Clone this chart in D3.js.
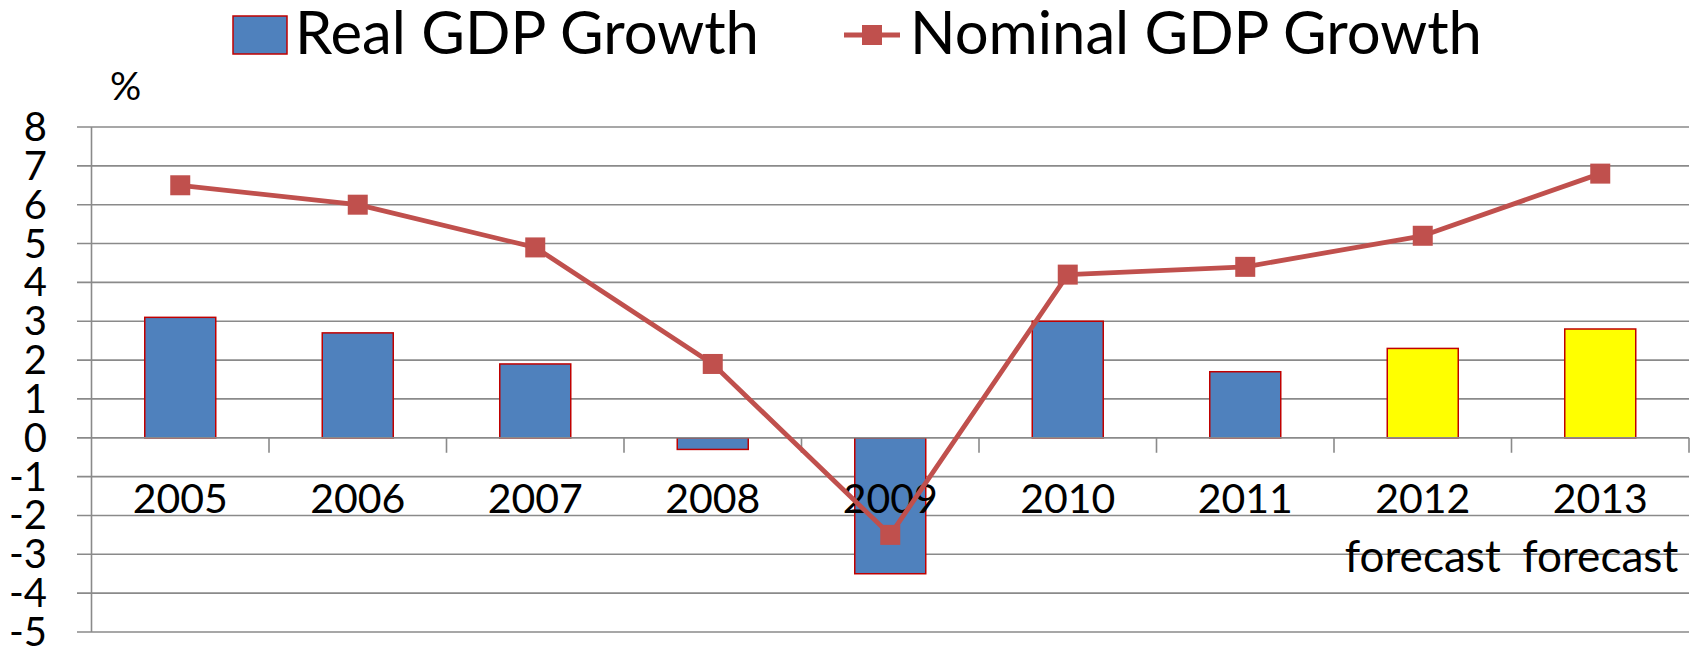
<!DOCTYPE html>
<html><head><meta charset="utf-8">
<script src="https://cdn.jsdelivr.net/npm/d3@7"></script>
<style>body{margin:0;background:#fff}svg{display:block}text{font-family:Lato,"Open Sans",sans-serif;fill:#000}</style>
</head><body>
<svg id="c" width="1700" height="648"></svg>
<script>
const years = ["2005","2006","2007","2008","2009","2010","2011","2012","2013"];
const subLabels = ["","","","","","","","forecast","forecast"];
const realGDP = [3.1, 2.7, 1.9, -0.3, -3.5, 3.0, 1.7, 2.3, 2.8];
const nominalGDP = [6.5, 6.0, 4.9, 1.9, -2.5, 4.2, 4.4, 5.2, 6.8];
const forecastYears = ["2012","2013"];
const yTicks = [8,7,6,5,4,3,2,1,0,-1,-2,-3,-4,-5];
const seriesNames = ["Real GDP Growth","Nominal GDP Growth"];

const svg = d3.select("#c");
const x = d3.scaleBand().domain(years).range([91.5, 1689]).paddingInner(0).paddingOuter(0);
const y = d3.scaleLinear().domain([-5, 8]).range([632, 127]);
const grid = "#8a8a8a";

function fitText(sel, target){
  const fs = 60; sel.attr("font-size", fs);
  const w = sel.node().getComputedTextLength();
  sel.attr("font-size", fs * target / w);
}

// gridlines
svg.append("g").selectAll("line").data(yTicks).join("line")
  .attr("x1", 77).attr("x2", 1689).attr("y1", d => y(d)).attr("y2", d => y(d))
  .attr("stroke", grid).attr("stroke-width", 1.6);

// bars
const bw = x.bandwidth() * 0.4;
svg.append("g").selectAll("rect").data(years).join("rect")
  .attr("x", d => x(d) + x.bandwidth()/2 - bw/2)
  .attr("width", bw)
  .attr("y", (d,i) => y(Math.max(0, realGDP[i])))
  .attr("height", (d,i) => Math.abs(y(realGDP[i]) - y(0)))
  .attr("fill", d => forecastYears.includes(d) ? "#FFFF00" : "#4F81BD")
  .attr("stroke", "#C00000").attr("stroke-width", 1.5);

// axis lines
svg.append("line").attr("x1", 91.5).attr("x2", 91.5).attr("y1", y(8)).attr("y2", y(-5))
  .attr("stroke", grid).attr("stroke-width", 1.6);
svg.append("line").attr("x1", 77).attr("x2", 1689).attr("y1", y(0)).attr("y2", y(0))
  .attr("stroke", grid).attr("stroke-width", 1.6);
svg.append("g").selectAll("line").data(years).join("line")
  .attr("x1", d => x(d) + x.bandwidth()).attr("x2", d => x(d) + x.bandwidth())
  .attr("y1", y(0)).attr("y2", y(0) + 15)
  .attr("stroke", grid).attr("stroke-width", 1.6);

// y labels
svg.append("g").selectAll("text").data(yTicks).join("text")
  .attr("x", 47).attr("y", d => y(d) + 14).attr("text-anchor", "end")
  .attr("font-size", 40).text(d => d);

// x labels
svg.append("g").selectAll("text").data(years).join("text")
  .attr("x", d => x(d) + x.bandwidth()/2).attr("y", 513)
  .attr("text-anchor", "middle").attr("font-size", 41).text(d => d);
svg.append("g").selectAll("text").data(years.filter((d,i)=>subLabels[i])).join("text")
  .attr("x", d => x(d) + x.bandwidth()/2).attr("y", 572)
  .attr("text-anchor", "middle")
  .text(d => subLabels[years.indexOf(d)])
  .each(function(){ fitText(d3.select(this), 156); });

// % label
svg.append("text").attr("x", 110).attr("y", 100).attr("font-size", 39).text("%");

// line
const line = d3.line().x((d,i) => x(years[i]) + x.bandwidth()/2).y(d => y(d));
svg.append("path").datum(nominalGDP).attr("d", line)
  .attr("fill", "none").attr("stroke", "#C0504D").attr("stroke-width", 4.8).attr("stroke-linejoin","round");
svg.append("g").selectAll("rect").data(nominalGDP).join("rect")
  .attr("x", (d,i) => x(years[i]) + x.bandwidth()/2 - 10).attr("y", d => y(d) - 10)
  .attr("width", 20).attr("height", 20).attr("fill", "#C0504D");

// legend
const lg = svg.append("g");
lg.append("rect").attr("x", 233).attr("y", 16).attr("width", 54).attr("height", 38)
  .attr("fill", "#4F81BD").attr("stroke", "#C00000").attr("stroke-width", 1.5);
const t1 = lg.append("text").attr("x", 295).attr("y", 54).text(seriesNames[0]);
fitText(t1, 464);
lg.append("line").attr("x1", 844).attr("x2", 900).attr("y1", 35).attr("y2", 35)
  .attr("stroke", "#C0504D").attr("stroke-width", 4.8);
lg.append("rect").attr("x", 862).attr("y", 25).attr("width", 20).attr("height", 20).attr("fill", "#C0504D");
const t2 = lg.append("text").attr("x", 910).attr("y", 54).text(seriesNames[1]);
fitText(t2, 572);
</script>
</body></html>
